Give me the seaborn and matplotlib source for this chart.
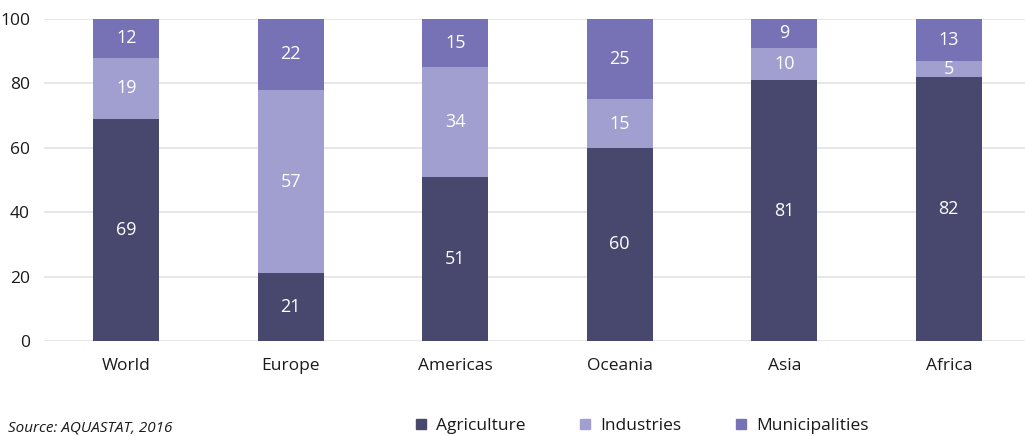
import matplotlib
matplotlib.use("Agg")
import matplotlib.pyplot as plt
import seaborn as sns
import pandas as pd
import numpy as np

regions = ["World", "Europe", "Americas", "Oceania", "Asia", "Africa"]
agriculture = [69, 21, 51, 60, 81, 82]
industries = [19, 57, 34, 15, 10, 5]
municipalities = [12, 22, 15, 25, 9, 13]
series_names = ["Agriculture", "Industries", "Municipalities"]
colors = ["#48486e", "#a09fd0", "#7771b5"]

sns.set_theme(style="white")
plt.rcParams['font.family'] = ['Open Sans', 'DejaVu Sans']

df = pd.DataFrame({"region": regions, "Agriculture": agriculture,
                   "Industries": industries, "Municipalities": municipalities})
df["ind_top"] = df["Agriculture"] + df["Industries"]
df["mun_top"] = df["ind_top"] + df["Municipalities"]

fig = plt.figure(figsize=(10.25, 4.36), dpi=100)
ax = fig.add_axes([44 / 1025, 1 - 341 / 436, 987 / 1025, 322 / 436])

# stacked by overlaying cumulative totals, tallest first
for col, c in [("mun_top", colors[2]), ("ind_top", colors[1]), ("Agriculture", colors[0])]:
    sns.barplot(data=df, x="region", y=col, color=c, width=0.4, saturation=1,
                linewidth=0, ax=ax, zorder=3)

# segment labels
for i in range(len(regions)):
    bottoms = [0, agriculture[i], agriculture[i] + industries[i]]
    vals = [agriculture[i], industries[i], municipalities[i]]
    for b, v in zip(bottoms, vals):
        ax.text(i, b + v / 2, str(v), ha="center", va="center", color="white",
                fontsize=13, zorder=4)

ax.set_ylim(0, 100)
ax.set_xlim(-0.5, 5.5)
ax.set_yticks(range(0, 101, 20))
ax.yaxis.grid(True, color="#e3e3e6", linewidth=1.2, zorder=0)
ax.set_axisbelow(True)
for s in ax.spines.values():
    s.set_visible(False)
ax.set_xlabel("")
ax.set_ylabel("")
ax.tick_params(axis="y", labelsize=12.5, colors="#1a1a1a", pad=10, length=0)
ax.tick_params(axis="x", labelsize=12.5, colors="#1a1a1a", pad=12, length=0)

# legend
handles = [plt.Line2D([0], [0], marker="s", linestyle="", markersize=7,
                      markerfacecolor=c, markeredgecolor=c) for c in colors]
fig.legend(handles, series_names, loc="center left", ncol=3,
           bbox_to_anchor=(398 / 1025, 1 - 426 / 436), frameon=False,
           fontsize=12.5, columnspacing=3.0, handlelength=0.8,
           handletextpad=0.5, labelcolor="#1a1a1a")

fig.text(8 / 1025, 1 - 428 / 436, "Source: AQUASTAT, 2016", fontsize=11,
         style="italic", color="#1a1a1a", va="center")

fig.savefig("out.png", dpi=100)
